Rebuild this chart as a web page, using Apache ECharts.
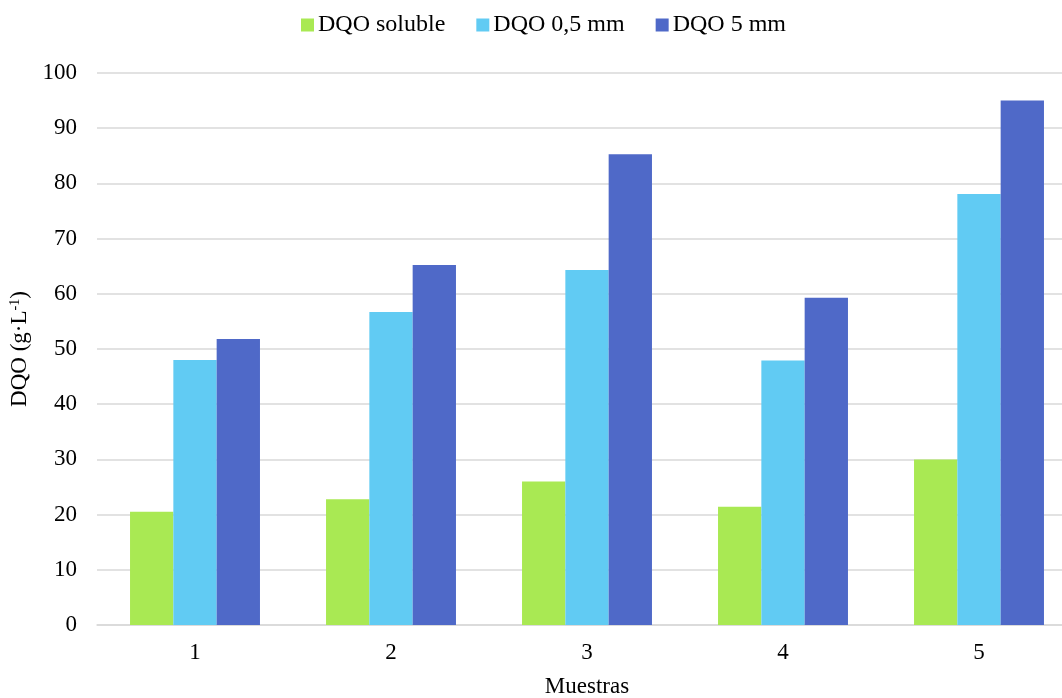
<!DOCTYPE html>
<html>
<head>
<meta charset="utf-8">
<script src="https://cdn.jsdelivr.net/npm/echarts@6/dist/echarts.min.js"></script>
<style>html,body{margin:0;padding:0;background:#fff}#c{width:1062px;height:698px}</style>
</head>
<body>
<div id="c"></div>
<script>
const categories = ['1', '2', '3', '4', '5'];
const seriesNames = ['DQO soluble', 'DQO 0,5 mm', 'DQO 5 mm'];
const dqoSoluble = [20.5, 22.8, 26.0, 21.4, 30.0];
const dqo05mm = [48.0, 56.7, 64.3, 47.9, 78.1];
const dqo5mm = [51.8, 65.2, 85.3, 59.3, 95.0];
const yTicks = [0, 10, 20, 30, 40, 50, 60, 70, 80, 90, 100];
const colors = ['#A9E953', '#61CBF3', '#4F69C8'];

const font = 'Liberation Serif';
const fs = 23;
const chart = echarts.init(document.getElementById('c'));
const values = [dqoSoluble, dqo05mm, dqo5mm];
chart.setOption({
  animation: false,
  textStyle: { fontFamily: font },
  legend: {
    top: 8, left: 296,
    itemWidth: 13, itemHeight: 13, itemGap: 31,
    icon: 'rect',
    textStyle: { fontFamily: font, fontSize: 24, color: '#000', padding: [0, 0, 0, -1] },
    data: seriesNames
  },
  grid: { left: 97, top: 73, width: 980, height: 552, containLabel: false, outerBoundsMode: 'none' },
  xAxis: {
    type: 'category', data: categories,
    name: 'Muestras', nameLocation: 'middle', nameGap: 50,
    nameTextStyle: { fontFamily: font, fontSize: fs, color: '#000' },
    axisLine: { lineStyle: { color: '#d9d9d9', width: 1.5 } },
    axisTick: { show: false },
    axisLabel: { fontFamily: font, fontSize: fs, color: '#000', margin: 16 }
  },
  yAxis: {
    type: 'value', min: yTicks[0], max: yTicks[yTicks.length - 1], interval: 10,
    name: 'DQO (g·L{sup|-1})', nameLocation: 'middle', nameGap: 66, nameRotate: 90,
    nameTextStyle: { fontFamily: font, fontSize: fs, color: '#000',
      rich: { sup: { fontFamily: font, fontSize: 14, color: '#000', verticalAlign: 'top', padding: [0, 0, 9, 0] } } },
    axisLine: { show: false }, axisTick: { show: false },
    axisLabel: { fontFamily: font, fontSize: fs, color: '#000', margin: 20 },
    splitLine: { lineStyle: { color: '#d9d9d9', width: 1.5 } }
  },
  series: seriesNames.map((n, i) => ({
    name: n, type: 'bar', data: values[i],
    barGap: '0%', barCategoryGap: '33.7%',
    itemStyle: { color: colors[i] }
  }))
});
</script>
</body>
</html>
